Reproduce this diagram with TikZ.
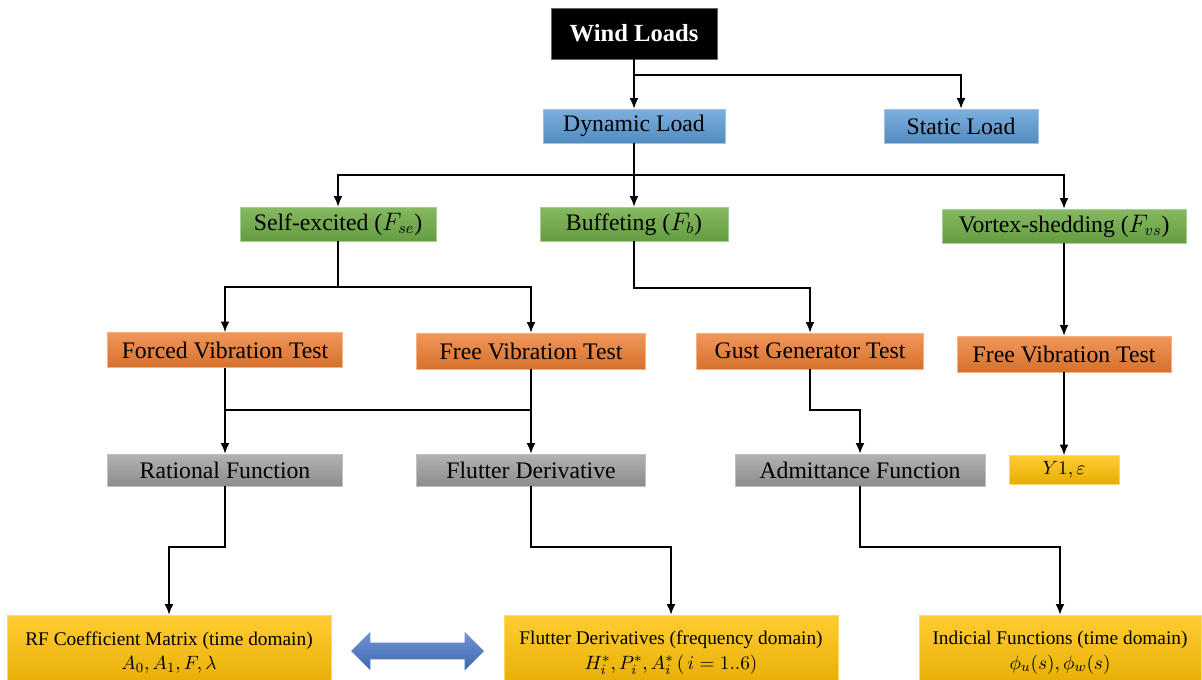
\documentclass[tikz,border=0pt]{standalone}
\usepackage{fontspec}
\setmainfont{Liberation Serif}
\usetikzlibrary{arrows.meta, shapes.arrows}

\definecolor{blueA}{HTML}{5B9BD5}
\definecolor{greenA}{HTML}{70AD47}
\definecolor{orangeA}{HTML}{ED7D31}
\definecolor{grayA}{HTML}{A5A5A5}
\definecolor{goldA}{HTML}{FFC000}
\definecolor{swapblue}{HTML}{4472C4}

\begin{document}
\begin{tikzpicture}[x=0.02cm, y=-0.02cm]
	\tikzstyle{box}=[inner sep=0pt, minimum height=0.68cm, font=\fontsize{13.5}{16}\selectfont, line width=0.4pt]
	\tikzstyle{blue box}=[box, top color=blueA!80!white, bottom color=blueA!90!black, draw=blueA!60!white]
	\tikzstyle{green box}=[box, top color=greenA!85!white, bottom color=greenA!90!black, draw=greenA!60!white]
	\tikzstyle{orange box}=[box, top color=orangeA!80!white, bottom color=orangeA!90!black, draw=orangeA!60!white]
	\tikzstyle{gray box}=[box, top color=grayA!85!white, bottom color=grayA!85!black, draw=grayA!70!white]
	\tikzstyle{gold box}=[box, top color=goldA!80!white, bottom color=goldA!90!black, draw=goldA!60!white]
	\tikzstyle{result}=[gold box, align=center, minimum height=1.5cm, font=\fontsize{11}{14}\selectfont]
	\tikzstyle{link}=[line width=0.8pt]
	\tikzstyle{arr}=[link, -{Latex[length=6pt, width=5pt]}]

	\useasboundingbox (0,0) rectangle (1202,679);

	\node (wind) [box, fill=black, draw=black!60, text=white, font=\fontsize{14}{16}\selectfont\bfseries, minimum width=3.32cm, minimum height=1.02cm] at (634,33.5) {Wind Loads};
	\node (dyn) [blue box, minimum width=3.64cm] at (634,126) {Dynamic Load};
	\node (static) [blue box, minimum width=3.08cm] at (961,126) {Static Load};

	\node (self) [green box, minimum width=3.92cm] at (338,224) {Self-excited ($F_{se}$)};
	\node (buff) [green box, minimum width=3.76cm] at (634,224) {Buffeting ($F_b$)};
	\node (vortex) [green box, minimum width=4.88cm] at (1064,226) {Vortex-shedding ($F_{vs}$)};

	\node (forced) [orange box, minimum width=4.70cm, minimum height=0.70cm] at (225,350) {Forced Vibration Test};
	\node (free) [orange box, minimum width=4.58cm, minimum height=0.72cm] at (531,351) {Free Vibration Test};
	\node (gust) [orange box, minimum width=4.54cm, minimum height=0.72cm] at (810,351) {Gust Generator Test};
	\node (freevs) [orange box, minimum width=4.28cm, minimum height=0.72cm] at (1064,354) {Free Vibration Test};

	\node (rat) [gray box, minimum width=4.70cm, minimum height=0.64cm] at (225,470) {Rational Function};
	\node (flut) [gray box, minimum width=4.58cm, minimum height=0.64cm] at (531,470) {Flutter Derivative};
	\node (adm) [gray box, minimum width=5.00cm, minimum height=0.64cm] at (860,470) {Admittance Function};
	\node (yeps) [gold box, minimum width=2.20cm, minimum height=0.58cm, font=\fontsize{11}{13}\selectfont] at (1064,470) {$Y1, \varepsilon$};

	\node (rf) [result, minimum width=6.48cm] at (169,652.5) {RF Coefficient Matrix (time domain)\\ $A_0, A_1, F, \lambda$};
	\node (fd) [result, minimum width=6.68cm] at (671,652.5) {Flutter Derivatives (frequency domain)\\ $H_i^*, P_i^*, A_i^*\,(\,i = 1..6)$};
	\node (ind) [result, minimum width=5.64cm] at (1060,652.5) {Indicial Functions (time domain)\\ $\phi_u(s), \phi_w(s)$};

	\node (swap) [double arrow, double arrow head extend=0.22cm, double arrow tip angle=90, inner sep=0pt, inner ysep=0.16cm, minimum height=2.66cm, top color=swapblue!75!white, bottom color=swapblue!90!black] at (417.5,651) {};

	\coordinate (j1) at (634,75);
	\coordinate (j2) at (634,175);
	\coordinate (j3) at (338,287);
	\coordinate (j4) at (810,288);
	\coordinate (j5) at (225,410);
	\coordinate (j6) at (531,410);
	\coordinate (j7) at (860,410);
	\coordinate (j8) at (169,547);
	\coordinate (j9) at (671,547);
	\coordinate (j10) at (1060,547);

	\draw[arr] (wind) -- (dyn);
	\draw[arr] (j1) -| (static);
	\draw[arr] (dyn) -- (buff);
	\draw[arr] (j2) -| (self);
	\draw[arr] (j2) -| (vortex);
	\draw[link] (self) -- (j3);
	\draw[arr] (j3) -| (forced);
	\draw[arr] (j3) -| (free);
	\draw[arr] (buff.south) |- (j4) -- (gust.north);
	\draw[arr] (vortex) -- (freevs);
	\draw[arr] (forced) -- (rat);
	\draw[arr] (free) -- (flut);
	\draw[link] (j5) -- (j6);
	\draw[arr] (gust.south) |- (j7) -- (adm.north);
	\draw[arr] (freevs) -- (yeps);
	\draw[arr] (rat.south) |- (j8) -- (rf.north);
	\draw[arr] (flut.south) |- (j9) -- (fd.north);
	\draw[arr] (adm.south) |- (j10) -- (ind.north);
\end{tikzpicture}
\end{document}
